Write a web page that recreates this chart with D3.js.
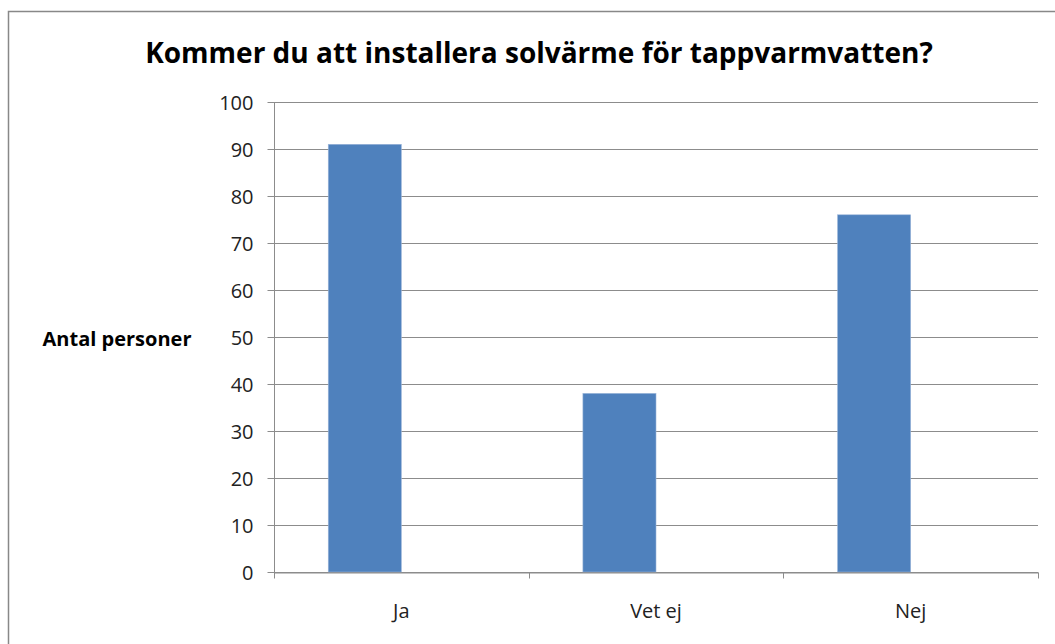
<!DOCTYPE html>
<html>
<head>
<meta charset="utf-8">
<script src="https://cdn.jsdelivr.net/npm/d3@7"></script>
<style>
body { margin: 0; background: #fff; }
text { font-family: "Open Sans", "Noto Sans", sans-serif; }
</style>
</head>
<body>
<div id="chart"></div>
<script>
width = 1055
height = 644

let categories = ["Ja", "Vet ej", "Nej"]
let values = [91, 38, 76]
let yTicks = [0, 10, 20, 30, 40, 50, 60, 70, 80, 90, 100]

let plot = {left: 274, right: 1038, top: 102, bottom: 572}

let svg = d3.select("#chart")
.append("svg")
.attr("width", width)
.attr("height", height)

// outer frame
svg.append("rect")
.attr("x", 8.5)
.attr("y", 11.5)
.attr("width", 1100)
.attr("height", 700)
.attr("fill", "#fff")
.attr("stroke", "#888888")
.attr("stroke-width", 1.5)

let x = d3.scaleBand()
.domain(categories)
.range([plot.left, plot.right])
.padding(0)

let y = d3.scaleLinear()
.domain([0, 100])
.range([plot.bottom, plot.top])

// gridlines
svg.append("g")
.selectAll("line")
.data(yTicks)
.join("line")
.attr("x1", plot.left)
.attr("x2", plot.right)
.attr("y1", d => Math.round(y(d)) + 0.5)
.attr("y2", d => Math.round(y(d)) + 0.5)
.attr("stroke", "#8c8c8c")
.attr("stroke-width", 1)

// bars, sitting left of the category centre like an Excel cluster
let barW = x.bandwidth() * 0.287
svg.append("g")
.selectAll("rect")
.data(values)
.join("rect")
.attr("x", (d, i) => x(categories[i]) + x.bandwidth() / 2 - barW)
.attr("width", barW)
.attr("y", d => y(d))
.attr("height", d => y(0) - y(d))
.attr("fill", "#4f81bd")
.attr("stroke", "#9bb5d9")
.attr("stroke-width", 0.6)

// y axis
let yAxis = svg.append("g")
.attr("transform", "translate(" + (plot.left + 0.5) + ",0)")
.call(d3.axisLeft(y).tickValues(yTicks).tickSize(7).tickPadding(14))
yAxis.select(".domain").attr("stroke", "#8c8c8c").attr("d", "M0," + plot.top + "V" + (plot.bottom + 5))
yAxis.selectAll(".tick line").attr("stroke", "#8c8c8c")
yAxis.selectAll(".tick text")
.attr("font-size", 20)
.attr("fill", "#222")
.attr("font-family", "Open Sans, sans-serif")
.attr("dy", "0.35em")

// x axis
let xAxis = svg.append("g")
.attr("transform", "translate(0," + (Math.round(y(0)) + 0.5) + ")")
.call(d3.axisBottom(x).tickSize(0).tickPadding(31))
xAxis.select(".domain").attr("stroke", "#8c8c8c")
xAxis.selectAll(".tick text")
.attr("font-size", 20)
.attr("fill", "#222")
.attr("font-family", "Open Sans, sans-serif")

// boundary tick marks between categories
let bounds = categories.map(c => x(c)).concat([plot.right])
xAxis.append("g")
.selectAll("line")
.data(bounds)
.join("line")
.attr("x1", d => Math.round(d) + 0.5)
.attr("x2", d => Math.round(d) + 0.5)
.attr("y1", 0)
.attr("y2", 6)
.attr("stroke", "#8c8c8c")

// title
svg.append("text")
.attr("x", 539)
.attr("y", 63)
.attr("text-anchor", "middle")
.attr("font-size", 28)
.attr("font-weight", "bold")
.attr("fill", "#000")
.text("Kommer du att installera solvärme för tappvarmvatten?")

// y axis title
svg.append("text")
.attr("x", 117)
.attr("y", 346)
.attr("text-anchor", "middle")
.attr("font-size", 20)
.attr("font-weight", "bold")
.attr("fill", "#000")
.text("Antal personer")
</script>
</body>
</html>
